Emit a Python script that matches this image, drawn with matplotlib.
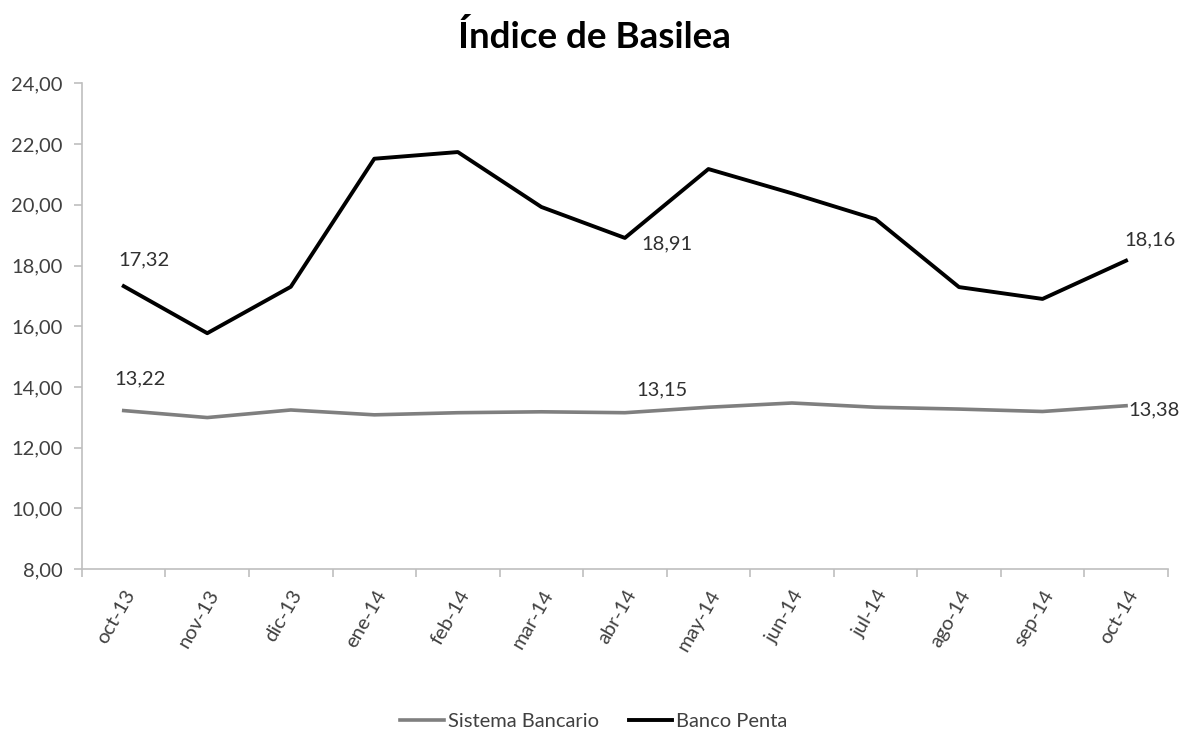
import matplotlib
matplotlib.use("Agg")
import matplotlib.pyplot as plt
import numpy as np
from matplotlib.ticker import FuncFormatter, FixedLocator

plt.rcParams["font.family"] = ["Lato", "DejaVu Sans"]

months = ["oct-13", "nov-13", "dic-13", "ene-14", "feb-14", "mar-14", "abr-14",
          "may-14", "jun-14", "jul-14", "ago-14", "sep-14", "oct-14"]
sistema_bancario = [13.22, 12.99, 13.24, 13.08, 13.15, 13.18, 13.15,
                    13.33, 13.47, 13.33, 13.27, 13.19, 13.38]
banco_penta = [17.32, 15.77, 17.30, 21.52, 21.74, 19.93, 18.91,
               21.18, 20.38, 19.53, 17.29, 16.90, 18.16]

fig = plt.figure(figsize=(11.88, 7.29), dpi=100)
ax = fig.add_axes([0.069, 0.2195, 0.914, 0.666])

x = np.arange(len(months))
ax.plot(x, sistema_bancario, color="#7F7F7F", linewidth=2.6, label="Sistema Bancario")
ax.plot(x, banco_penta, color="black", linewidth=2.8, label="Banco Penta")

ax.set_xlim(-0.5, len(months) - 0.5)
ax.set_ylim(8, 24)
ax.set_yticks(np.arange(8, 25, 2))
ax.yaxis.set_major_formatter(FuncFormatter(lambda v, p: f"{v:.2f}".replace(".", ",")))

ax.set_xticks(x)
ax.set_xticklabels(months, rotation=60, ha="right", rotation_mode="anchor")
ax.xaxis.set_minor_locator(FixedLocator(np.arange(-0.5, len(months), 1.0)))
ax.tick_params(axis="x", which="major", length=0, pad=13, labelsize=14.5)
ax.tick_params(axis="x", which="minor", length=6, color="#BFBFBF", width=1.2)
ax.tick_params(axis="y", length=6, color="#BFBFBF", width=1.2, labelsize=14.5, pad=8)
for lbl in ax.get_yticklabels() + ax.get_xticklabels():
    lbl.set_color("#404040")

for side in ["top", "right"]:
    ax.spines[side].set_visible(False)
for side in ["left", "bottom"]:
    ax.spines[side].set_color("#BFBFBF")
    ax.spines[side].set_linewidth(1.2)


def fmt(v):
    return f"{v:.2f}".replace(".", ",")


label_kw = dict(fontsize=14.5, color="#303030")
ax.annotate(fmt(banco_penta[0]), (0, banco_penta[0]), xytext=(-4, 13),
            textcoords="offset points", ha="left", va="bottom", **label_kw)
ax.annotate(fmt(banco_penta[6]), (6, banco_penta[6]), xytext=(12, -4),
            textcoords="offset points", ha="left", va="center", **label_kw)
ax.annotate(fmt(banco_penta[12]), (12, banco_penta[12]), xytext=(-1, 9),
            textcoords="offset points", ha="left", va="bottom", **label_kw)
ax.annotate(fmt(sistema_bancario[0]), (0, sistema_bancario[0]), xytext=(-7, 17),
            textcoords="offset points", ha="left", va="bottom", **label_kw)
ax.annotate(fmt(sistema_bancario[6]), (6, sistema_bancario[6]), xytext=(8, 10),
            textcoords="offset points", ha="left", va="bottom", **label_kw)
ax.annotate(fmt(sistema_bancario[12]), (12, sistema_bancario[12]), xytext=(2, -3),
            textcoords="offset points", ha="left", va="center", **label_kw)

fig.suptitle("Índice de Basilea", x=0.5, y=0.972, fontsize=26.5, fontweight="bold", color="black")

fig.legend(loc="lower center", bbox_to_anchor=(0.5, -0.026), ncol=2, frameon=False,
           fontsize=14.5, handlelength=2.15, columnspacing=1.5, handletextpad=0.2,
           labelcolor="#404040")

fig.savefig("out.png", dpi=100)
